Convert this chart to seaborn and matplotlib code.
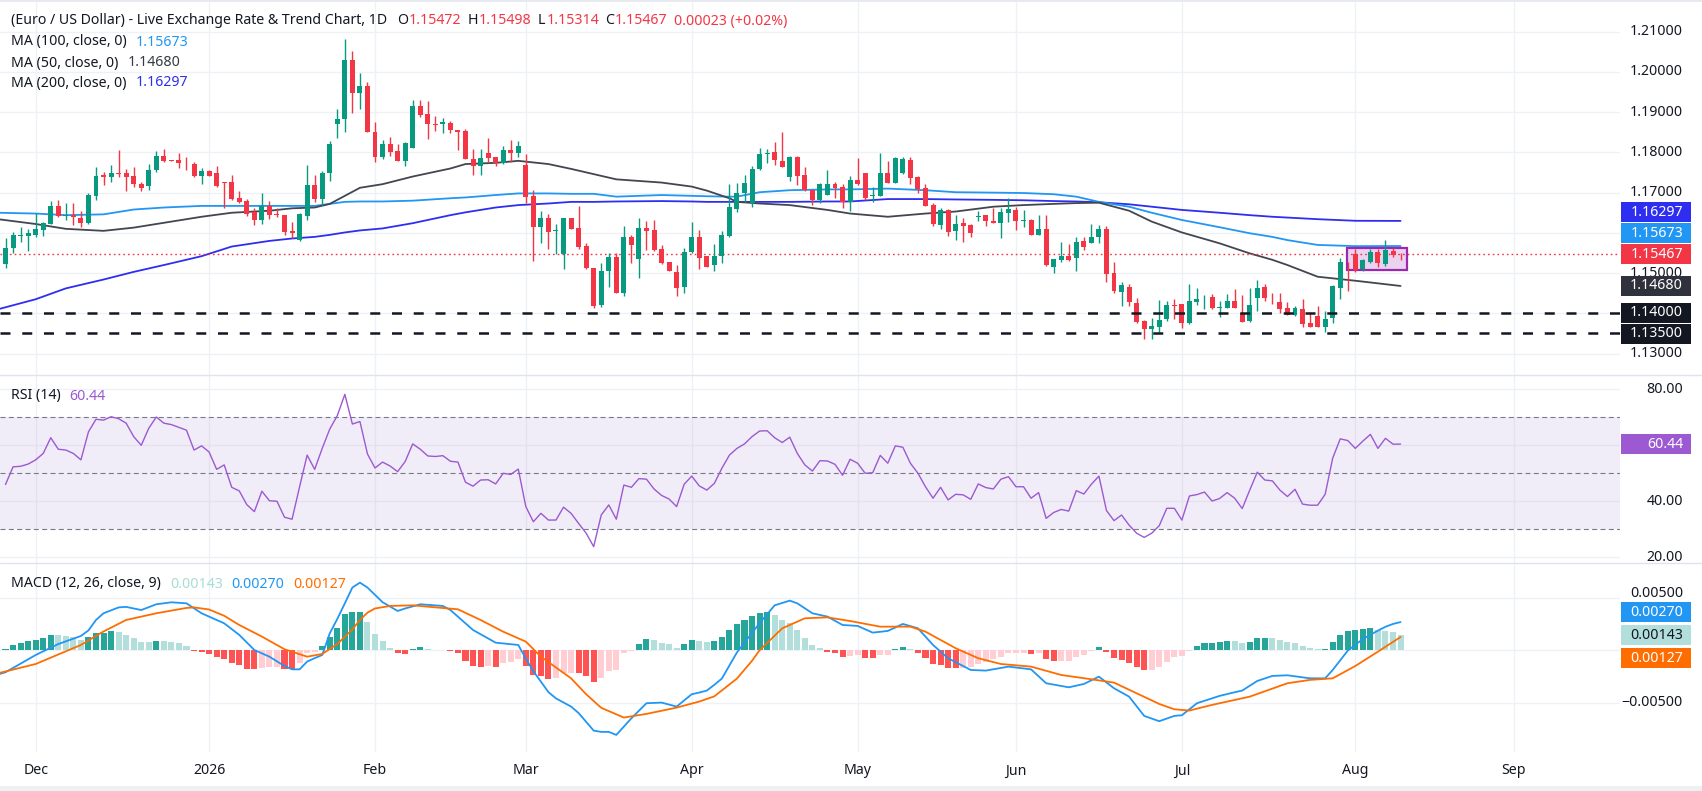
import numpy as np
import pandas as pd
import matplotlib
matplotlib.use("Agg")
import matplotlib.pyplot as plt
import matplotlib.transforms as mtransforms
from matplotlib.patches import Rectangle
import seaborn as sns

# ------------------------------------------------------------------ data
first_candle = "2025-11-25"

open_ = [
    1.1522, 1.1563, 1.1592, 1.1592, 1.1595, 1.1607, 1.1622, 1.1667, 1.1643, 1.1644,
    1.1638, 1.1624, 1.1692, 1.1743, 1.1738, 1.1750, 1.1748, 1.1741, 1.1721, 1.1717,
    1.1755, 1.1791, 1.1781, 1.1781, 1.1774, 1.1771, 1.1742, 1.1754, 1.1748, 1.1726,
    1.1726, 1.1687, 1.1679, 1.1652, 1.1632, 1.1667, 1.1647, 1.1644, 1.1605, 1.1582,
    1.1643, 1.1719, 1.1684, 1.1748, 1.1871, 1.1882, 1.2030, 1.1947, 1.1965, 1.1851,
    1.1789, 1.1821, 1.1803, 1.1779, 1.1812, 1.1915, 1.1895, 1.1870, 1.1870, 1.1872,
    1.1856, 1.1853, 1.1783, 1.1767, 1.1798, 1.1789, 1.1773, 1.1806, 1.1799, 1.1769,
    1.1692, 1.1615, 1.1638, 1.1605, 1.1547, 1.1636, 1.1611, 1.1567, 1.1512, 1.1421,
    1.1504, 1.1539, 1.1451, 1.1589, 1.1536, 1.1611, 1.1607, 1.1559, 1.1527, 1.1502,
    1.1466, 1.1552, 1.1589, 1.1542, 1.1520, 1.1542, 1.1592, 1.1659, 1.1698, 1.1673,
    1.1758, 1.1795, 1.1802, 1.1779, 1.1740, 1.1789, 1.1744, 1.1706, 1.1682, 1.1694,
    1.1721, 1.1713, 1.1677, 1.1731, 1.1748, 1.1692, 1.1692, 1.1748, 1.1725, 1.1748,
    1.1781, 1.1738, 1.1711, 1.1669, 1.1620, 1.1657, 1.1605, 1.1625, 1.1620, 1.1640,
    1.1644, 1.1629, 1.1625, 1.1650, 1.1657, 1.1630, 1.1632, 1.1595, 1.1609, 1.1514,
    1.1532, 1.1542, 1.1537, 1.1580, 1.1576, 1.1589, 1.1610, 1.1499, 1.1454, 1.1466,
    1.1425, 1.1381, 1.1360, 1.1367, 1.1386, 1.1421, 1.1422, 1.1375, 1.1429, 1.1440,
    1.1441, 1.1414, 1.1414, 1.1431, 1.1402, 1.1382, 1.1439, 1.1465, 1.1441, 1.1427,
    1.1412, 1.1397, 1.1410, 1.1375, 1.1393, 1.1367, 1.1389, 1.1464, 1.1526, 1.1547,
    1.1509, 1.1528, 1.1552, 1.1523, 1.1555, 1.15472,
]
high = [
    1.1586, 1.1603, 1.1614, 1.1609, 1.1650, 1.1628, 1.1679, 1.1682, 1.1673, 1.1673,
    1.1655, 1.1698, 1.1764, 1.1752, 1.1769, 1.1806, 1.1759, 1.1764, 1.1727, 1.1771,
    1.1803, 1.1808, 1.1782, 1.1799, 1.1789, 1.1777, 1.1761, 1.1755, 1.1767, 1.1727,
    1.1744, 1.1704, 1.1684, 1.1663, 1.1698, 1.1679, 1.1661, 1.1645, 1.1628, 1.1650,
    1.1769, 1.1744, 1.1754, 1.1828, 1.1908, 1.2083, 1.2052, 1.1998, 1.1976, 1.1876,
    1.1831, 1.1839, 1.1822, 1.1827, 1.1929, 1.1930, 1.1928, 1.1891, 1.1885, 1.1878,
    1.1856, 1.1857, 1.1808, 1.1808, 1.1837, 1.1789, 1.1816, 1.1831, 1.1828, 1.1795,
    1.1707, 1.1654, 1.1647, 1.1622, 1.1638, 1.1638, 1.1667, 1.1576, 1.1512, 1.1524,
    1.1549, 1.1549, 1.1617, 1.1595, 1.1638, 1.1629, 1.1632, 1.1571, 1.1527, 1.1520,
    1.1563, 1.1628, 1.1607, 1.1543, 1.1572, 1.1605, 1.1721, 1.1725, 1.1744, 1.1767,
    1.1812, 1.1808, 1.1827, 1.1851, 1.1791, 1.1791, 1.1764, 1.1706, 1.1725, 1.1756,
    1.1727, 1.1721, 1.1742, 1.1787, 1.1750, 1.1713, 1.1799, 1.1779, 1.1789, 1.1789,
    1.1789, 1.1742, 1.1721, 1.1675, 1.1661, 1.1659, 1.1644, 1.1636, 1.1622, 1.1654,
    1.1645, 1.1663, 1.1663, 1.1686, 1.1665, 1.1657, 1.1634, 1.1644, 1.1644, 1.1534,
    1.1578, 1.1572, 1.1589, 1.1589, 1.1622, 1.1619, 1.1617, 1.1527, 1.1479, 1.1473,
    1.1437, 1.1383, 1.1389, 1.1433, 1.1431, 1.1436, 1.1423, 1.1473, 1.1462, 1.1446,
    1.1448, 1.1431, 1.1448, 1.1460, 1.1446, 1.1464, 1.1483, 1.1474, 1.1451, 1.1450,
    1.1427, 1.1419, 1.1436, 1.1400, 1.1418, 1.1406, 1.1470, 1.1537, 1.1527, 1.1559,
    1.1534, 1.1559, 1.1559, 1.1582, 1.1563, 1.15498,
]
low = [
    1.1512, 1.1549, 1.1578, 1.1556, 1.1590, 1.1592, 1.1622, 1.1640, 1.1632, 1.1620,
    1.1615, 1.1622, 1.1682, 1.1719, 1.1727, 1.1738, 1.1705, 1.1715, 1.1705, 1.1706,
    1.1752, 1.1777, 1.1778, 1.1760, 1.1756, 1.1740, 1.1721, 1.1741, 1.1715, 1.1661,
    1.1682, 1.1675, 1.1642, 1.1620, 1.1622, 1.1634, 1.1640, 1.1595, 1.1586, 1.1580,
    1.1632, 1.1677, 1.1669, 1.1730, 1.1837, 1.1851, 1.1899, 1.1907, 1.1851, 1.1777,
    1.1783, 1.1791, 1.1779, 1.1767, 1.1812, 1.1889, 1.1833, 1.1853, 1.1849, 1.1847,
    1.1806, 1.1783, 1.1744, 1.1744, 1.1777, 1.1767, 1.1771, 1.1775, 1.1789, 1.1673,
    1.1531, 1.1576, 1.1560, 1.1547, 1.1509, 1.1609, 1.1561, 1.1509, 1.1412, 1.1415,
    1.1466, 1.1451, 1.1443, 1.1526, 1.1487, 1.1557, 1.1556, 1.1522, 1.1504, 1.1443,
    1.1450, 1.1549, 1.1510, 1.1515, 1.1506, 1.1526, 1.1589, 1.1653, 1.1677, 1.1665,
    1.1756, 1.1774, 1.1769, 1.1763, 1.1730, 1.1719, 1.1705, 1.1669, 1.1675, 1.1694,
    1.1686, 1.1661, 1.1655, 1.1718, 1.1682, 1.1677, 1.1692, 1.1725, 1.1725, 1.1746,
    1.1721, 1.1698, 1.1667, 1.1618, 1.1610, 1.1592, 1.1582, 1.1578, 1.1590, 1.1630,
    1.1618, 1.1625, 1.1588, 1.1626, 1.1607, 1.1615, 1.1595, 1.1594, 1.1518, 1.1501,
    1.1528, 1.1531, 1.1504, 1.1557, 1.1575, 1.1575, 1.1479, 1.1451, 1.1419, 1.1419,
    1.1377, 1.1335, 1.1335, 1.1354, 1.1382, 1.1385, 1.1363, 1.1373, 1.1421, 1.1410,
    1.1410, 1.1392, 1.1414, 1.1412, 1.1379, 1.1379, 1.1406, 1.1431, 1.1423, 1.1402,
    1.1395, 1.1394, 1.1365, 1.1365, 1.1367, 1.1354, 1.1375, 1.1435, 1.1456, 1.1502,
    1.1505, 1.1526, 1.1516, 1.1518, 1.1540, 1.15314,
]
close = [
    1.1563, 1.1595, 1.1595, 1.1600, 1.1609, 1.1625, 1.1667, 1.1642, 1.1645, 1.1640,
    1.1625, 1.1694, 1.1741, 1.1740, 1.1750, 1.1747, 1.1740, 1.1721, 1.1711, 1.1756,
    1.1791, 1.1779, 1.1779, 1.1774, 1.1773, 1.1742, 1.1754, 1.1742, 1.1716, 1.1725,
    1.1684, 1.1677, 1.1648, 1.1632, 1.1667, 1.1644, 1.1645, 1.1603, 1.1599, 1.1647,
    1.1719, 1.1684, 1.1748, 1.1821, 1.1883, 1.2030, 1.1947, 1.1965, 1.1851, 1.1789,
    1.1821, 1.1802, 1.1779, 1.1824, 1.1915, 1.1893, 1.1870, 1.1868, 1.1876, 1.1856,
    1.1850, 1.1783, 1.1767, 1.1787, 1.1787, 1.1773, 1.1806, 1.1799, 1.1816, 1.1690,
    1.1615, 1.1638, 1.1603, 1.1607, 1.1638, 1.1610, 1.1566, 1.1512, 1.1417, 1.1505,
    1.1539, 1.1451, 1.1589, 1.1571, 1.1611, 1.1605, 1.1557, 1.1526, 1.1506, 1.1464,
    1.1552, 1.1589, 1.1537, 1.1516, 1.1542, 1.1595, 1.1665, 1.1698, 1.1723, 1.1759,
    1.1796, 1.1798, 1.1781, 1.1764, 1.1789, 1.1742, 1.1706, 1.1682, 1.1721, 1.1721,
    1.1711, 1.1677, 1.1731, 1.1721, 1.1687, 1.1695, 1.1748, 1.1725, 1.1787, 1.1783,
    1.1737, 1.1709, 1.1667, 1.1622, 1.1657, 1.1603, 1.1622, 1.1618, 1.1600, 1.1643,
    1.1630, 1.1625, 1.1651, 1.1659, 1.1630, 1.1632, 1.1595, 1.1609, 1.1520, 1.1534,
    1.1542, 1.1532, 1.1578, 1.1566, 1.1589, 1.1610, 1.1498, 1.1456, 1.1470, 1.1427,
    1.1379, 1.1360, 1.1368, 1.1383, 1.1421, 1.1419, 1.1375, 1.1431, 1.1436, 1.1441,
    1.1412, 1.1416, 1.1431, 1.1414, 1.1379, 1.1421, 1.1462, 1.1439, 1.1440, 1.1411,
    1.1397, 1.1412, 1.1373, 1.1367, 1.1367, 1.1387, 1.1468, 1.1527, 1.1524, 1.1508,
    1.1532, 1.1552, 1.1524, 1.1558, 1.15444, 1.15467,
]

ma100 = {
    "2025-11-24": 1.1650, "2025-12-01": 1.1648, "2025-12-05": 1.1644, "2025-12-12": 1.1646,
    "2025-12-18": 1.1658, "2025-12-24": 1.1663, "2025-12-31": 1.1667, "2026-01-06": 1.1667,
    "2026-01-13": 1.1667, "2026-01-16": 1.1667, "2026-01-21": 1.1667, "2026-01-23": 1.1672,
    "2026-01-27": 1.1677, "2026-01-29": 1.1678, "2026-02-03": 1.1678, "2026-02-09": 1.1680,
    "2026-02-16": 1.1686, "2026-02-18": 1.1688, "2026-02-24": 1.1694, "2026-02-27": 1.1698,
    "2026-03-05": 1.1698, "2026-03-10": 1.1697, "2026-03-13": 1.1697, "2026-03-18": 1.1690,
    "2026-03-26": 1.1694, "2026-04-01": 1.1692, "2026-04-03": 1.1691, "2026-04-08": 1.1690,
    "2026-04-09": 1.1690, "2026-04-14": 1.1701, "2026-04-20": 1.1706, "2026-04-27": 1.1708,
    "2026-04-30": 1.1708, "2026-05-07": 1.1710, "2026-05-14": 1.1706, "2026-05-20": 1.1701,
    "2026-05-27": 1.1700, "2026-06-02": 1.1699, "2026-06-08": 1.1696, "2026-06-11": 1.1690,
    "2026-06-16": 1.1677, "2026-06-22": 1.1665, "2026-06-25": 1.1650, "2026-07-01": 1.1632,
    "2026-07-08": 1.1614, "2026-07-14": 1.1599, "2026-07-17": 1.1590, "2026-07-21": 1.1582,
    "2026-07-27": 1.1570, "2026-08-03": 1.1567, "2026-08-11": 1.15673,
}
ma50 = {
    "2025-11-24": 1.1634, "2025-12-01": 1.1622, "2025-12-05": 1.1610, "2025-12-12": 1.1605,
    "2025-12-18": 1.1613, "2025-12-24": 1.1625, "2025-12-31": 1.1640, "2026-01-06": 1.1650,
    "2026-01-13": 1.1655, "2026-01-16": 1.1661, "2026-01-21": 1.1663, "2026-01-23": 1.1672,
    "2026-01-27": 1.1692, "2026-01-29": 1.1712, "2026-02-03": 1.1721, "2026-02-09": 1.1740,
    "2026-02-16": 1.1760, "2026-02-18": 1.1771, "2026-02-24": 1.1774, "2026-02-27": 1.1779,
    "2026-03-05": 1.1771, "2026-03-10": 1.1759, "2026-03-13": 1.1746, "2026-03-18": 1.1733,
    "2026-03-26": 1.1725, "2026-04-01": 1.1715, "2026-04-03": 1.1705, "2026-04-08": 1.1686,
    "2026-04-09": 1.1677, "2026-04-14": 1.1673, "2026-04-20": 1.1669, "2026-04-27": 1.1657,
    "2026-04-30": 1.1648, "2026-05-07": 1.1640, "2026-05-14": 1.1648, "2026-05-20": 1.1653,
    "2026-05-27": 1.1665, "2026-06-02": 1.1669, "2026-06-08": 1.1672, "2026-06-11": 1.1674,
    "2026-06-16": 1.1675, "2026-06-22": 1.1655, "2026-06-25": 1.1628, "2026-07-01": 1.1601,
    "2026-07-08": 1.1574, "2026-07-14": 1.1549, "2026-07-17": 1.1533, "2026-07-21": 1.1520,
    "2026-07-27": 1.1491, "2026-08-03": 1.1481, "2026-08-11": 1.14680,
}
ma200 = {
    "2025-11-24": 1.1410, "2025-12-01": 1.1435, "2025-12-05": 1.1462, "2025-12-12": 1.1484,
    "2025-12-18": 1.1503, "2025-12-24": 1.1520, "2025-12-31": 1.1542, "2026-01-06": 1.1566,
    "2026-01-13": 1.1580, "2026-01-16": 1.1586, "2026-01-21": 1.1590, "2026-01-23": 1.1595,
    "2026-01-27": 1.1601, "2026-01-29": 1.1606, "2026-02-03": 1.1611, "2026-02-09": 1.1624,
    "2026-02-16": 1.1644, "2026-02-18": 1.1651, "2026-02-24": 1.1663, "2026-02-27": 1.1669,
    "2026-03-05": 1.1673, "2026-03-10": 1.1677, "2026-03-13": 1.1677, "2026-03-18": 1.1678,
    "2026-03-26": 1.1679, "2026-04-01": 1.1678, "2026-04-03": 1.1677, "2026-04-08": 1.1677,
    "2026-04-09": 1.1677, "2026-04-14": 1.1677, "2026-04-20": 1.1677, "2026-04-27": 1.1678,
    "2026-04-30": 1.1678, "2026-05-07": 1.1684, "2026-05-14": 1.1684, "2026-05-20": 1.1683,
    "2026-05-27": 1.1682, "2026-06-02": 1.1681, "2026-06-08": 1.1679, "2026-06-11": 1.1678,
    "2026-06-16": 1.1676, "2026-06-22": 1.1671, "2026-06-25": 1.1665, "2026-07-01": 1.1657,
    "2026-07-08": 1.1650, "2026-07-14": 1.1644, "2026-07-17": 1.1640, "2026-07-21": 1.1638,
    "2026-07-27": 1.1634, "2026-08-03": 1.1630, "2026-08-11": 1.16297,
}

rsi = [
    46.0, 52.3, 52.5, 53.3, 54.8, 57.1, 62.7, 58.6, 58.3, 57.1,
    54.8, 64.8, 69.3, 69.0, 70.2, 69.5, 67.9, 63.1, 60.0, 66.1,
    70.1, 67.9, 67.4, 66.4, 65.4, 58.3, 59.8, 57.6, 51.4, 53.0,
    45.0, 43.7, 38.8, 36.3, 43.6, 40.2, 40.0, 34.3, 33.6, 45.2,
    56.5, 51.4, 58.9, 65.8, 70.6, 78.2, 67.6, 68.5, 56.9, 51.9,
    54.0, 52.6, 50.6, 54.2, 60.5, 58.6, 56.2, 56.0, 56.3, 54.3,
    54.0, 46.8, 45.4, 47.6, 47.7, 46.2, 50.0, 49.6, 51.5, 38.1,
    32.7, 35.7, 33.3, 33.3, 37.9, 35.7, 32.1, 28.6, 23.8, 35.1,
    38.7, 33.6, 45.8, 45.0, 48.1, 47.9, 44.4, 42.1, 40.8, 38.1,
    46.1, 49.0, 45.5, 44.0, 46.4, 51.8, 56.5, 58.9, 60.5, 63.1,
    65.1, 65.2, 62.7, 61.0, 62.9, 57.1, 53.0, 50.8, 54.5, 54.4,
    53.2, 49.3, 55.0, 53.6, 50.0, 50.2, 56.4, 53.6, 59.8, 59.3,
    53.6, 50.0, 45.2, 41.1, 45.0, 40.5, 42.5, 42.3, 40.7, 46.2,
    44.9, 44.4, 47.9, 48.8, 45.2, 45.2, 41.1, 43.1, 33.9, 36.0,
    37.1, 36.5, 43.8, 42.6, 46.1, 49.0, 36.7, 33.1, 35.1, 31.5,
    28.6, 27.1, 28.6, 31.3, 37.5, 37.5, 33.3, 41.9, 42.4, 43.3,
    40.1, 41.0, 43.1, 41.1, 37.4, 44.0, 50.4, 47.6, 47.3, 44.0,
    41.7, 44.3, 39.0, 38.6, 38.6, 42.5, 55.4, 62.3, 61.7, 58.9,
    61.5, 63.9, 58.9, 62.5, 60.4, 60.44,
]

macd_hist = [
    0.00013, 0.00051, 0.00073, 0.00092, 0.00099, 0.00115, 0.00147, 0.00143, 0.00134, 0.00127,
    0.00099, 0.00131, 0.00166, 0.00169, 0.00185, 0.00178, 0.00147, 0.00121, 0.00080, 0.00078,
    0.00089, 0.00088, 0.00083, 0.00067, 0.00045, -0.00003, -0.00013, -0.00035, -0.00061, -0.00086,
    -0.00124, -0.00140, -0.00178, -0.00182, -0.00172, -0.00160, -0.00156, -0.00175, -0.00182, -0.00124,
    -0.00029, -0.00019, 0.00038, 0.00127, 0.00217, 0.00347, 0.00363, 0.00364, 0.00271, 0.00156,
    0.00089, 0.00025, -0.00029, -0.00035, 0.00013, 0.00029, 0.00016, 0.00006, 0.00002, -0.00006,
    -0.00029, -0.00099, -0.00150, -0.00156, -0.00150, -0.00156, -0.00124, -0.00115, -0.00086, -0.00150,
    -0.00236, -0.00245, -0.00271, -0.00268, -0.00220, -0.00213, -0.00220, -0.00242, -0.00299, -0.00264,
    -0.00194, -0.00190, -0.00022, -0.00003, 0.00064, 0.00105, 0.00096, 0.00073, 0.00060, 0.00025,
    0.00064, 0.00099, 0.00089, 0.00080, 0.00086, 0.00124, 0.00194, 0.00252, 0.00290, 0.00328,
    0.00360, 0.00369, 0.00341, 0.00290, 0.00258, 0.00194, 0.00118, 0.00048, 0.00019, -0.00013,
    -0.00025, -0.00064, -0.00051, -0.00041, -0.00073, -0.00075, -0.00045, -0.00044, 0.00016, 0.00032,
    0.00016, -0.00025, -0.00073, -0.00131, -0.00137, -0.00169, -0.00170, -0.00165, -0.00160, -0.00131,
    -0.00108, -0.00086, -0.00061, -0.00029, -0.00025, -0.00024, -0.00035, -0.00029, -0.00086, -0.00105,
    -0.00104, -0.00099, -0.00067, -0.00045, -0.00006, 0.00029, -0.00013, -0.00070, -0.00092, -0.00118,
    -0.00156, -0.00188, -0.00186, -0.00156, -0.00108, -0.00064, -0.00051, -0.00006, 0.00041, 0.00067,
    0.00070, 0.00083, 0.00089, 0.00087, 0.00073, 0.00080, 0.00115, 0.00116, 0.00114, 0.00099,
    0.00080, 0.00070, 0.00041, 0.00019, 0.00010, 0.00013, 0.00080, 0.00143, 0.00185, 0.00194,
    0.00204, 0.00210, 0.00194, 0.00188, 0.00175, 0.00143,
]

macd_line = {
    "2025-11-24": -0.0023, "2025-11-25": -0.0021, "2025-12-01": -0.00045, "2025-12-04": 0.0006,
    "2025-12-09": 0.00137, "2025-12-10": 0.0019, "2025-12-11": 0.0029, "2025-12-12": 0.00354,
    "2025-12-16": 0.0041, "2025-12-17": 0.00415, "2025-12-19": 0.00385, "2025-12-23": 0.0044,
    "2025-12-25": 0.00459, "2025-12-29": 0.00449, "2025-12-31": 0.00354, "2026-01-05": 0.00258,
    "2026-01-07": 0.00147, "2026-01-09": 0.00003, "2026-01-13": -0.00061, "2026-01-15": -0.0015,
    "2026-01-16": -0.00182, "2026-01-19": -0.00182, "2026-01-20": -0.00108, "2026-01-21": -0.00075,
    "2026-01-22": -0.00045, "2026-01-23": 0.00162, "2026-01-26": 0.0030, "2026-01-27": 0.00449,
    "2026-01-28": 0.0060, "2026-01-29": 0.00647, "2026-01-30": 0.0060, "2026-02-02": 0.0053,
    "2026-02-03": 0.0046, "2026-02-05": 0.00376, "2026-02-06": 0.0040, "2026-02-10": 0.0044,
    "2026-02-13": 0.00424, "2026-02-16": 0.00385, "2026-02-19": 0.00194, "2026-02-24": 0.00073,
    "2026-02-27": 0.00051, "2026-03-02": -0.0008, "2026-03-03": -0.0020, "2026-03-05": -0.0040,
    "2026-03-06": -0.0046, "2026-03-10": -0.00538, "2026-03-11": -0.0060, "2026-03-13": -0.00768,
    "2026-03-16": -0.0078, "2026-03-17": -0.0078, "2026-03-18": -0.00809, "2026-03-20": -0.0065,
    "2026-03-24": -0.00506, "2026-03-26": -0.0050, "2026-03-30": -0.00538, "2026-04-01": -0.0042,
    "2026-04-02": -0.00404, "2026-04-03": -0.00385, "2026-04-06": -0.0033, "2026-04-07": -0.0027,
    "2026-04-09": -0.0002, "2026-04-14": 0.0026, "2026-04-16": 0.0043, "2026-04-20": 0.00475,
    "2026-04-21": 0.00449, "2026-04-23": 0.00354, "2026-04-27": 0.00322, "2026-04-29": 0.00242,
    "2026-05-01": 0.00233, "2026-05-05": 0.00169, "2026-05-07": 0.00185, "2026-05-11": 0.00252,
    "2026-05-13": 0.0021, "2026-05-15": 0.00051, "2026-05-19": -0.00076, "2026-05-22": -0.00188,
    "2026-05-26": -0.00194, "2026-05-29": -0.00156, "2026-06-03": -0.00182, "2026-06-05": -0.00315,
    "2026-06-10": -0.00354, "2026-06-12": -0.00322, "2026-06-16": -0.00252, "2026-06-18": -0.00363,
    "2026-06-22": -0.00443, "2026-06-24": -0.00627, "2026-06-26": -0.00678, "2026-06-30": -0.00627,
    "2026-07-01": -0.00621, "2026-07-03": -0.00506, "2026-07-08": -0.00436, "2026-07-10": -0.00401,
    "2026-07-13": -0.00385, "2026-07-15": -0.00293, "2026-07-17": -0.00245, "2026-07-21": -0.00239,
    "2026-07-24": -0.00268, "2026-07-28": -0.00268, "2026-07-29": -0.00188, "2026-07-31": -0.00003,
    "2026-08-04": 0.00108, "2026-08-06": 0.00188, "2026-08-07": 0.00225, "2026-08-10": 0.00252,
    "2026-08-11": 0.00270,
}
macd_signal = {
    "2025-11-24": -0.0022, "2025-12-01": -0.00131, "2025-12-04": -0.0004, "2025-12-09": 0.00051,
    "2025-12-12": 0.0018, "2025-12-17": 0.0029, "2025-12-23": 0.00354, "2025-12-29": 0.00405,
    "2025-12-30": 0.0041, "2026-01-01": 0.0039, "2026-01-05": 0.0033, "2026-01-07": 0.00242,
    "2026-01-12": 0.00131, "2026-01-15": 0.0001, "2026-01-20": -0.00061, "2026-01-22": -0.00035,
    "2026-01-26": 0.0006, "2026-01-28": 0.0020, "2026-01-29": 0.0029, "2026-01-30": 0.0036,
    "2026-02-02": 0.0040, "2026-02-04": 0.00424, "2026-02-09": 0.0043, "2026-02-11": 0.00417,
    "2026-02-17": 0.00392, "2026-02-20": 0.0029, "2026-02-25": 0.00178, "2026-03-02": 0.00083,
    "2026-03-04": -0.00061, "2026-03-10": -0.00268, "2026-03-12": -0.0042, "2026-03-16": -0.0055,
    "2026-03-19": -0.00643, "2026-03-24": -0.00608, "2026-03-30": -0.00548, "2026-04-02": -0.0049,
    "2026-04-06": -0.0044, "2026-04-09": -0.0027, "2026-04-13": -0.0010, "2026-04-14": 0.0,
    "2026-04-17": 0.0021, "2026-04-22": 0.00306, "2026-04-27": 0.00315, "2026-04-30": 0.0028,
    "2026-05-06": 0.00226, "2026-05-12": 0.00226, "2026-05-14": 0.00178, "2026-05-20": 0.0002,
    "2026-05-25": -0.00076, "2026-05-28": -0.00131, "2026-06-03": -0.00156, "2026-06-09": -0.00236,
    "2026-06-15": -0.00277, "2026-06-18": -0.00309, "2026-06-23": -0.00411, "2026-06-26": -0.00513,
    "2026-06-30": -0.00564, "2026-07-02": -0.00576, "2026-07-07": -0.00522, "2026-07-14": -0.00443,
    "2026-07-21": -0.00315, "2026-07-24": -0.00283, "2026-07-29": -0.00268, "2026-08-03": -0.0015,
    "2026-08-06": -0.00013, "2026-08-11": 0.00127,
}

support_levels = [1.14, 1.135]
box_dates = ("2026-07-31", "2026-08-11")
box_prices = (1.1508, 1.1563)

price_ticks = [1.13, 1.14, 1.15, 1.16, 1.17, 1.18, 1.19, 1.20, 1.21]
rsi_ticks = [20, 40, 60, 80]
rsi_levels = [30, 50, 70]
macd_ticks = [-0.005, 0.0, 0.005]
month_starts = ["2025-12-01", "2026-01-01", "2026-02-01", "2026-03-01", "2026-04-01",
                "2026-05-01", "2026-06-01", "2026-07-01", "2026-08-01", "2026-09-01"]
month_labels = ["Dec", "2026", "Feb", "Mar", "Apr", "May", "Jun", "Jul", "Aug", "Sep"]

title = "(Euro / US Dollar) - Live Exchange Rate & Trend Chart, 1D"

# ------------------------------------------------------------------ style
sns.set_theme(style="white")
plt.rcParams["font.family"] = ["Noto Sans", "DejaVu Sans"]

DARK = "#131722"
UP, DOWN = "#089981", "#f23645"
C_MA100, C_MA50, C_MA200 = "#2196f3", "#434651", "#2e2ef0"
C_RSI = "#9c59d1"
C_MACD, C_SIG = "#2196f3", "#ff6d00"
H_UP, H_UP_L, H_DN, H_DN_L = "#26a69a", "#b2dfdb", "#ff5252", "#ffcdd2"
GRID = "#eff1f5"
FS = 10.2

W, H = 1702, 791
fig = plt.figure(figsize=(W / 100, H / 100), dpi=100, facecolor="white")

calendar = pd.bdate_range("2025-11-24", "2026-10-30")


def pos(dates):
    return calendar.get_indexer(pd.to_datetime(list(dates)))


PLOT_R = 1620
XLIM = (0.27, 215.1)
YLIM_P = (1.12467, 1.21738)
YLIM_R = (17.96, 85.11)
YLIM_M = (-0.009723, 0.008346)


def add_ax(top, bottom, ylim):
    ax = fig.add_axes([0, 1 - bottom / H, PLOT_R / W, (bottom - top) / H])
    ax.set_axis_off()
    ax.set_xlim(*XLIM)
    ax.set_ylim(*ylim)
    return ax


ax_p = add_ax(2, 375, YLIM_P)
ax_r = add_ax(375, 563, YLIM_R)
ax_m = add_ax(563, 752, YLIM_M)

# grid
mpos = [calendar.searchsorted(pd.Timestamp(d)) for d in month_starts]
for ax in (ax_p, ax_r, ax_m):
    for mp in mpos:
        ax.axvline(mp, color=GRID, lw=1, zorder=0)
for t in price_ticks:
    ax_p.axhline(t, color=GRID, lw=1, zorder=0)
for t in rsi_ticks:
    ax_r.axhline(t, color=GRID, lw=1, zorder=0)
for t in macd_ticks:
    ax_m.axhline(t, color=GRID, lw=1, zorder=0)

# panel separators and frame bands
for yy in (375, 563):
    fig.add_artist(plt.Line2D([0, 1], [1 - yy / H] * 2, color="#e0e3eb", lw=1,
                              transform=fig.transFigure, zorder=1))
fig.add_artist(Rectangle((0, 1 - 2 / H), 1, 2 / H, transform=fig.transFigure,
                         fc="#e6e9ef", ec="none", zorder=1))
fig.add_artist(Rectangle((0, 0), 1, 5 / H, transform=fig.transFigure,
                         fc="#eef0f4", ec="none", zorder=1))

# ------------------------------------------------------------------ price panel
n = len(close)
cdates = pd.bdate_range(first_candle, periods=n)
x = pos(cdates)
o, hi, lo, c = (np.asarray(a, dtype=float) for a in (open_, high, low, close))
cols = np.where(c >= o, UP, DOWN)

for ma, col in ((ma200, C_MA200), (ma100, C_MA100), (ma50, C_MA50)):
    df = pd.DataFrame({"x": pos(ma.keys()), "y": list(ma.values())})
    sns.lineplot(data=df, x="x", y="y", ax=ax_p, color=col, linewidth=1.3, zorder=2)

bx0 = pos([box_dates[0]])[0] - 0.13
bx1 = pos([box_dates[1]])[0] + 0.9
ax_p.add_patch(Rectangle((bx0, box_prices[0]), bx1 - bx0, box_prices[1] - box_prices[0],
                         fc=(0.612, 0.153, 0.690, 0.2), ec="#9c27b0", lw=1.6, zorder=2.5))

ax_p.vlines(x, lo, hi, colors=cols, lw=1, zorder=3)
ax_p.bar(x, np.maximum(np.abs(c - o), 0.00003), bottom=np.minimum(o, c), width=0.66,
         color=cols, linewidth=0, zorder=3.5)

ax_p.axhline(c[-1], color=DOWN if c[-1] < o[-1] else UP, lw=1, ls=(0, (1.2, 2.2)), zorder=2)
for lev in support_levels:
    ax_p.axhline(lev, color=DARK, lw=1.8, ls=(0, (4, 4.7)), zorder=5)

# ------------------------------------------------------------------ RSI panel
ax_r.axhspan(rsi_levels[0], rsi_levels[-1], color="#7e57c2", alpha=0.1, lw=0, zorder=0.5)
for lv in rsi_levels:
    ax_r.axhline(lv, color="#787b86", lw=0.8, ls=(0, (4.5, 3)), zorder=1)
rdf = pd.DataFrame({"x": x, "y": rsi})
sns.lineplot(data=rdf, x="x", y="y", ax=ax_r, color=C_RSI, linewidth=1.0, zorder=3)

# ------------------------------------------------------------------ MACD panel
hv = np.asarray(macd_hist, dtype=float)
prev = np.concatenate([[hv[0] - 1], hv[:-1]])
hcols = np.where(hv >= 0, np.where(hv > prev, H_UP, H_UP_L), np.where(hv < prev, H_DN, H_DN_L))
ax_m.bar(x, hv, width=0.8, color=hcols, linewidth=0, zorder=2)
for series, col in ((macd_line, C_MACD), (macd_signal, C_SIG)):
    df = pd.DataFrame({"x": pos(series.keys()), "y": list(series.values())})
    sns.lineplot(data=df, x="x", y="y", ax=ax_m, color=col, linewidth=1.3, zorder=3)

for ax, ylim in ((ax_p, YLIM_P), (ax_r, YLIM_R), (ax_m, YLIM_M)):
    ax.set_xlim(*XLIM)
    ax.set_ylim(*ylim)
    ax.set_axis_off()

# ------------------------------------------------------------------ axis labels / tags
LBL_X = 1683


def tags(ax, items, anchor=None, hgt=21):
    ys = [ax.transData.transform((0, v))[1] for v, *_ in items]
    for _ in range(300):
        moved = False
        order = sorted(range(len(ys)), key=lambda k: ys[k])
        for a, b in zip(order, order[1:]):
            d = ys[b] - ys[a]
            if d < hgt - 1e-6:
                push = hgt - d
                if a == anchor:
                    ys[b] += push
                elif b == anchor:
                    ys[a] -= push
                else:
                    ys[a] -= push / 2
                    ys[b] += push / 2
                moved = True
        if not moved:
            break
    for (v, txt, bg, fg), y in zip(items, ys):
        fig.add_artist(Rectangle((1621 / W, (y - 10) / H), 70 / W, 20 / H,
                                 transform=fig.transFigure, fc=bg, ec="none", zorder=5))
        fig.text(LBL_X / W, y / H, txt, ha="right", va="center", color=fg,
                 fontsize=FS, zorder=6)
    return ys


def ytick_texts(ax, ticks, fmt, tag_ys=(), clear=None):
    # tick labels fully hidden behind a value tag are not drawn (as on the reference)
    for t in ticks:
        y = ax.transData.transform((0, t))[1]
        if any(abs(y - ty) <= 10 for ty in tag_ys):
            continue
        if clear is not None:
            for ty in tag_ys:
                d = y - ty
                if abs(d) < clear:
                    y = ty + np.sign(d) * clear
        fig.text(LBL_X / W, y / H, fmt(t), ha="right", va="center",
                 fontsize=FS, color=DARK, zorder=2)


ma100_last = list(ma100.values())[-1]
ma50_last = list(ma50.values())[-1]
ma200_last = list(ma200.values())[-1]
last_col = DOWN if c[-1] < o[-1] else UP
p_tags = tags(ax_p, [
    (ma200_last, f"{ma200_last:.5f}", C_MA200, "white"),
    (ma100_last, f"{ma100_last:.5f}", C_MA100, "white"),
    (c[-1], f"{c[-1]:.5f}", last_col, "white"),
    (ma50_last, f"{ma50_last:.5f}", "#2f323c", "white"),
    (support_levels[0], f"{support_levels[0]:.5f}", DARK, "white"),
    (support_levels[1], f"{support_levels[1]:.5f}", DARK, "white"),
], anchor=2)
r_tags = tags(ax_r, [(rsi[-1], f"{rsi[-1]:.2f}", C_RSI, "white")], anchor=0)
m_last = list(macd_line.values())[-1]
s_last = list(macd_signal.values())[-1]
h_last = hv[-1]
m_tags = tags(ax_m, [
    (m_last, f"{m_last:.5f}", C_MACD, "white"),
    (h_last, f"{h_last:.5f}", hcols[-1], DARK),
    (s_last, f"{s_last:.5f}", C_SIG, "white"),
], anchor=1, hgt=23)

ytick_texts(ax_p, price_ticks, lambda t: f"{t:.5f}", tag_ys=p_tags)
ytick_texts(ax_r, rsi_ticks, lambda t: f"{t:.2f}", tag_ys=r_tags)
ytick_texts(ax_m, macd_ticks, lambda t: f"{t:.5f}".replace("-", "\u2212"),
            tag_ys=m_tags, clear=19)

xtr = mtransforms.blended_transform_factory(ax_m.transData, fig.transFigure)
for mp, lab in zip(mpos, month_labels):
    ax_m.text(mp, 1 - 771 / H, lab, transform=xtr, ha="center", va="center", fontsize=FS,
              color=DARK, fontweight="bold" if lab.isdigit() else "normal", clip_on=False)

# ------------------------------------------------------------------ legends


def chain(ax, x_px, y_px, segs):
    prev = ax.annotate(segs[0][0], xy=(x_px, H - y_px), xycoords="figure pixels",
                       va="center", ha="left", color=segs[0][1], fontsize=FS,
                       annotation_clip=False)
    for s, col, gap in segs[1:]:
        prev = ax.annotate(s, xy=(1, 0.5), xycoords=prev, xytext=(gap, 0),
                           textcoords="offset pixels", va="center", ha="left",
                           color=col, fontsize=FS, annotation_clip=False)


chg = c[-1] - c[-2]
chg_pct = chg / c[-2] * 100
hdr_col = last_col
chain(ax_p, 11, 21, [
    (title, DARK),
    ("O", DARK, 10), (f"{o[-1]:.5f}", hdr_col, 1),
    ("H", DARK, 6), (f"{hi[-1]:.5f}", hdr_col, 1),
    ("L", DARK, 6), (f"{lo[-1]:.5f}", hdr_col, 1),
    ("C", DARK, 6), (f"{c[-1]:.5f}", hdr_col, 1),
    (f"{chg:.5f} ({chg_pct:+.2f}%)", hdr_col, 6),
])
chain(ax_p, 11, 42, [("MA (100, close, 0)", DARK), (f"{ma100_last:.5f}", C_MA100, 9)])
chain(ax_p, 11, 63, [("MA (50, close, 0)", DARK), (f"{ma50_last:.5f}", "#363a45", 9)])
chain(ax_p, 11, 83, [("MA (200, close, 0)", DARK), (f"{ma200_last:.5f}", C_MA200, 9)])
chain(ax_r, 11, 396, [("RSI (14)", DARK), (f"{rsi[-1]:.2f}", C_RSI, 9)])
chain(ax_m, 11, 584, [("MACD (12, 26, close, 9)", DARK),
                      (f"{h_last:.5f}", "#a8ddd5", 9),
                      (f"{m_last:.5f}", C_MACD, 9),
                      (f"{s_last:.5f}", C_SIG, 9)])

fig.savefig("out.png", dpi=100, facecolor="white")
